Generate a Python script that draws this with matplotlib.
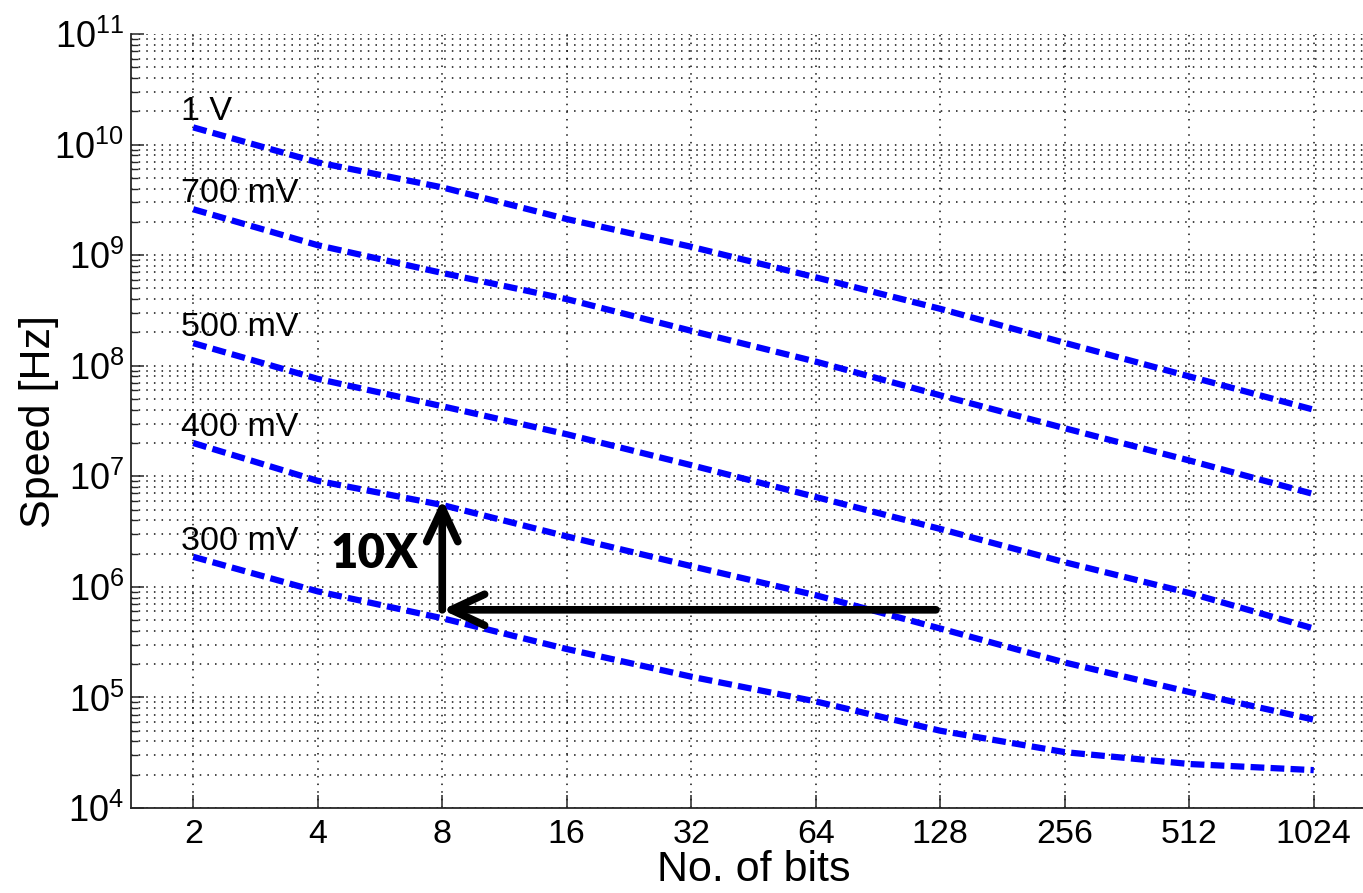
import matplotlib
matplotlib.use("Agg")
import matplotlib.pyplot as plt
from matplotlib.ticker import FixedLocator, FixedFormatter, LogLocator, NullLocator

plt.rcParams['font.family'] = ['Liberation Sans', 'DejaVu Sans']
plt.rcParams['mathtext.fontset'] = 'custom'
plt.rcParams['mathtext.rm'] = 'Liberation Sans'
plt.rcParams['mathtext.default'] = 'regular'

# Word length (bits) and speed (Hz) at each supply voltage
bits = [2, 4, 8, 16, 32, 64, 128, 256, 512, 1024]
speed_1v = [1.43e10, 6.9e9, 4.1e9, 2.12e9, 1.19e9, 6.3e8, 3.27e8, 1.61e8, 8.0e7, 4.0e7]
speed_700mv = [2.6e9, 1.23e9, 6.9e8, 4.0e8, 2.07e8, 1.09e8, 5.4e7, 2.72e7, 1.39e7, 6.9e6]
speed_500mv = [1.6e8, 7.6e7, 4.3e7, 2.4e7, 1.26e7, 6.5e6, 3.34e6, 1.67e6, 8.8e5, 4.2e5]
speed_400mv = [2.0e7, 9.1e6, 5.5e6, 2.86e6, 1.54e6, 8.4e5, 4.2e5, 2.07e5, 1.12e5, 6.3e4]
speed_300mv = [1.87e6, 9.1e5, 5.2e5, 2.74e5, 1.54e5, 9.2e4, 5.0e4, 3.2e4, 2.5e4, 2.2e4]

series = [speed_1v, speed_700mv, speed_500mv, speed_400mv, speed_300mv]
series_labels = ["1 V", "700 mV", "500 mV", "400 mV", "300 mV"]
x_tick_labels = ["2", "4", "8", "16", "32", "64", "128", "256", "512", "1024"]

# Annotation: 10X speed gain at 8 bits
gain_bits = 8
gain_from_bits = 125
gain_base = 6.2e5
gain_factor = 10

fig = plt.figure(figsize=(13.63, 8.93), dpi=100)
ax = fig.add_axes([131 / 1363, 85 / 893, (1376 - 131) / 1363, (808 - 34) / 893])

for vals in series:
    ax.plot(bits, vals, color=(0, 0, 1), lw=4.5,
            linestyle=(0, (2.2, 1.0)), dash_capstyle='butt', zorder=3)

for vals, lab in zip(series, series_labels):
    ax.annotate(lab, xy=(bits[0], vals[0]), xytext=(-12, 0),
                textcoords='offset pixels', ha='left', va='bottom',
                fontsize=24.5, color='black', zorder=4)

ax.set_xscale('log', base=2)
ax.set_yscale('log')
ax.set_xlim(2 ** 0.5, 2 ** 10.5)
ax.set_ylim(1e4, 1e11)

ax.xaxis.set_major_locator(FixedLocator(bits))
ax.xaxis.set_major_formatter(FixedFormatter(x_tick_labels))
ax.xaxis.set_minor_locator(NullLocator())
ax.yaxis.set_major_locator(LogLocator(base=10, numticks=20))
ax.yaxis.set_minor_locator(LogLocator(base=10, subs=range(2, 10), numticks=20))

grid_kw = dict(color='#111111', linestyle=(0, (1, 4)), linewidth=1.1)
ax.grid(True, which='major', axis='both', **grid_kw)
ax.grid(True, which='minor', axis='y', **grid_kw)
ax.set_axisbelow(True)

for s in ['top', 'right']:
    ax.spines[s].set_visible(False)
for s in ['left', 'bottom']:
    ax.spines[s].set_color('#262626')
    ax.spines[s].set_linewidth(1.3)

ax.tick_params(which='major', direction='in', length=9.5, width=1.1,
               color='#262626', labelsize=24.5, pad=8)
ax.tick_params(which='minor', direction='in', length=5, width=1.0, color='#262626')
ax.tick_params(axis='y', which='major', pad=5, labelsize=26)

ax.set_xlabel("No. of bits", fontsize=31, labelpad=0)
ax.set_ylabel("Speed [Hz]", fontsize=31)
ax.yaxis.set_label_coords(-0.058, 0.5)

arrow_kw = dict(arrowstyle='->,head_length=0.6,head_width=0.28', lw=5.5,
                color='black', shrinkA=0, shrinkB=0, mutation_scale=40)
ax.annotate("", xy=(gain_bits, gain_base), xytext=(gain_from_bits, gain_base),
            arrowprops=arrow_kw, zorder=5)
ax.annotate("", xy=(gain_bits, gain_base * gain_factor), xytext=(gain_bits, gain_base),
            arrowprops=arrow_kw, zorder=5)
ax.annotate("10X", xy=(gain_bits, gain_base), xytext=(-24, 34),
            textcoords='offset pixels', ha='right', va='bottom',
            fontsize=34, fontweight='heavy', family=['Lato', 'DejaVu Sans'], zorder=5)

fig.savefig("out.png", dpi=100)
